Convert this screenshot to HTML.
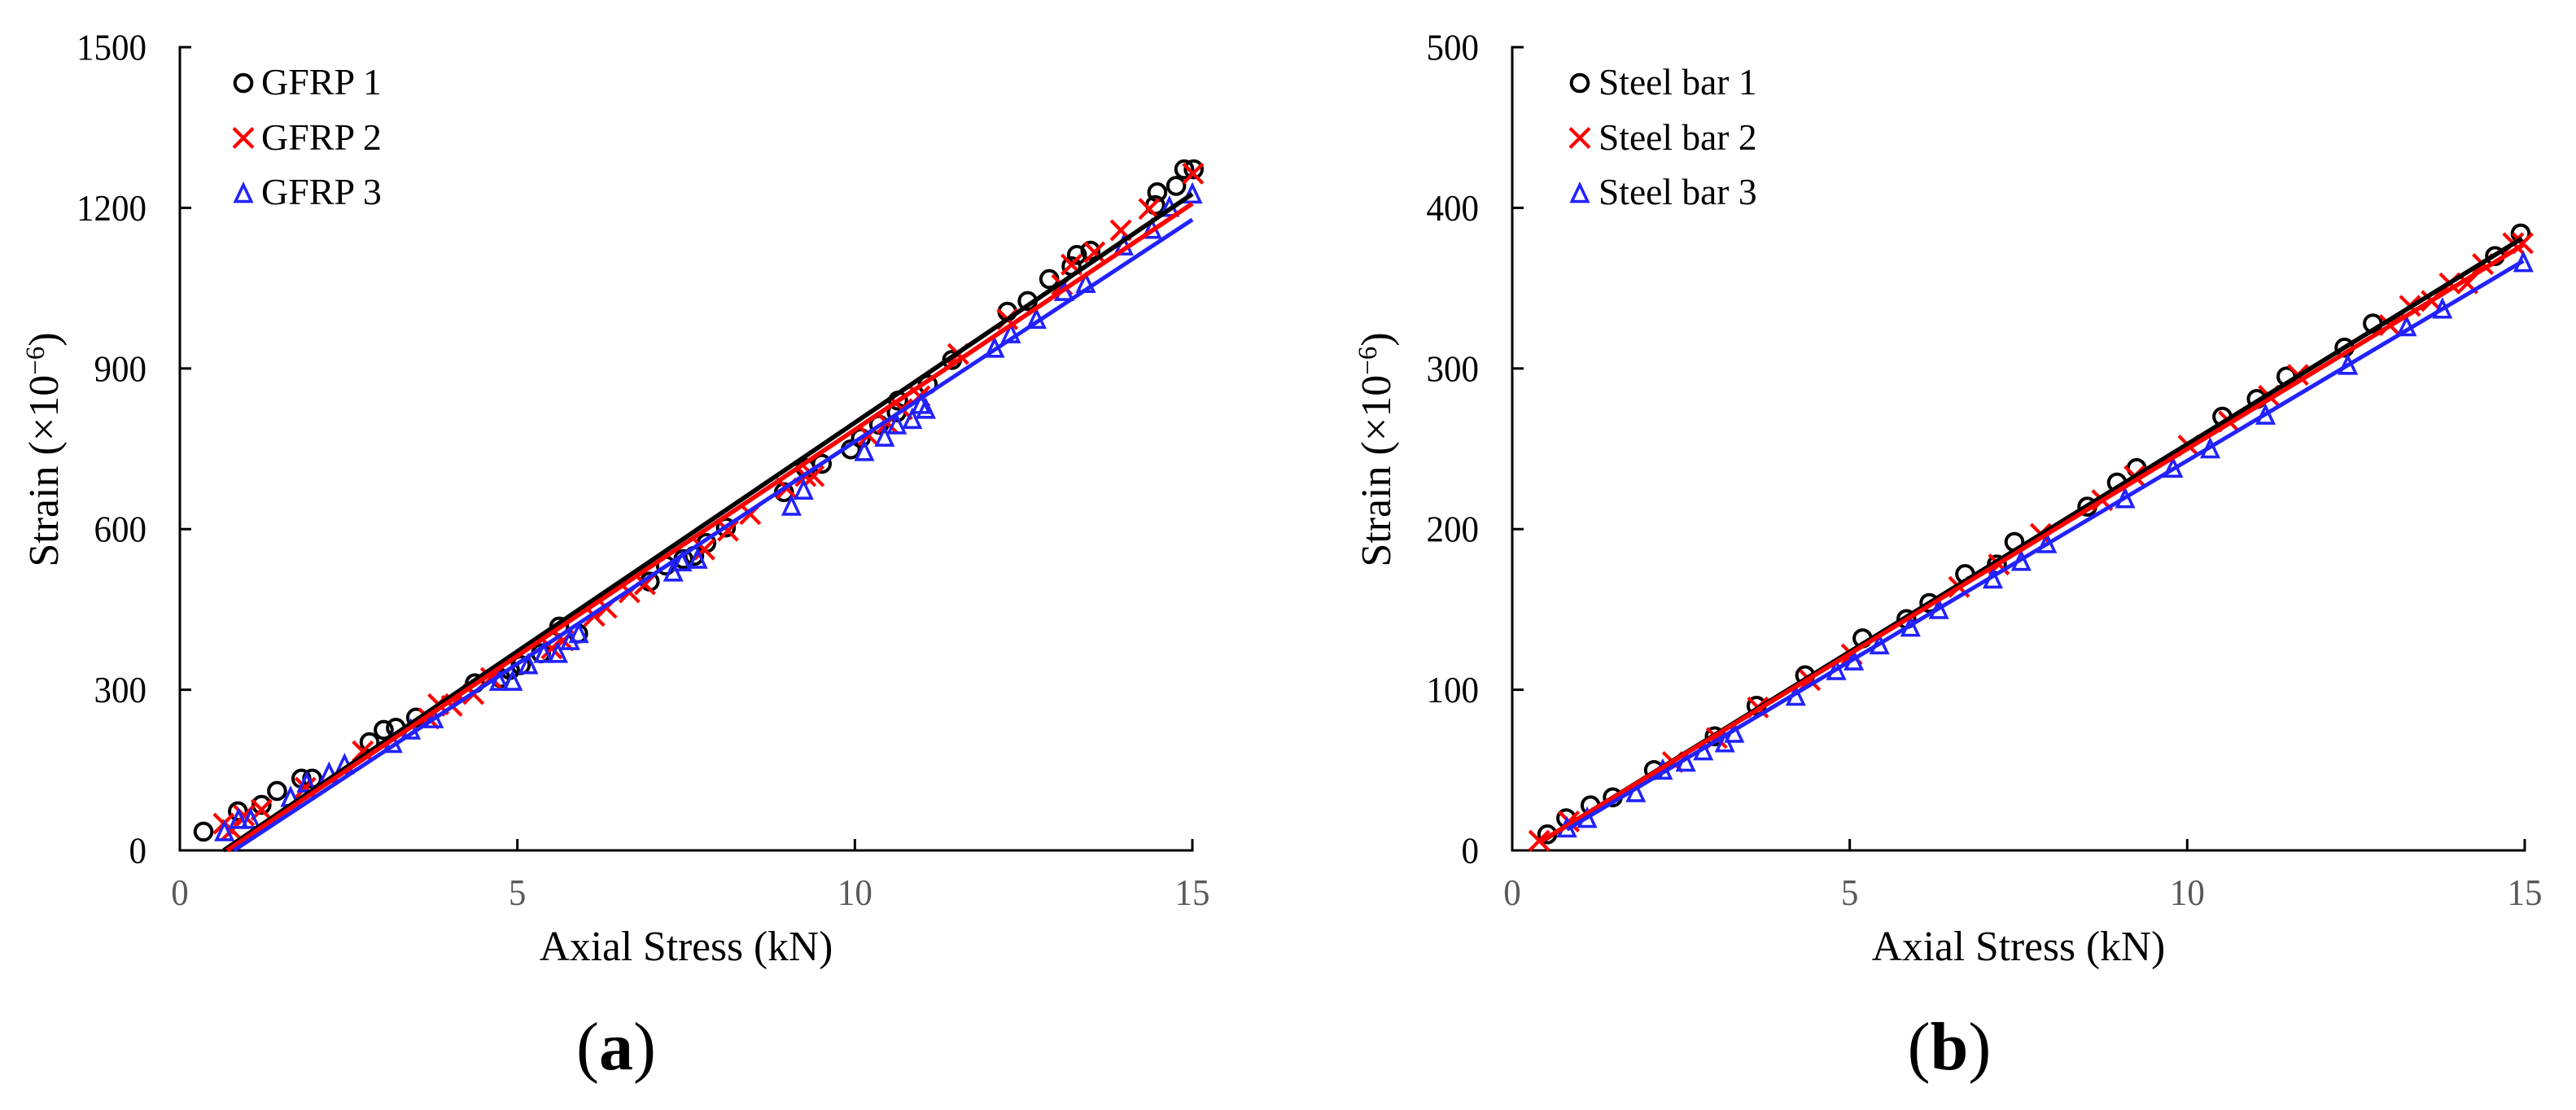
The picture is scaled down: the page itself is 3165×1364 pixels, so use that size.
<!DOCTYPE html>
<html lang="en">
<head>
<meta charset="utf-8">
<title>Axial stress vs strain for GFRP and steel bars</title>
<style>
html,body{margin:0;padding:0;background:#fff;}
svg{display:block;font-family:"Liberation Serif","Times New Roman",serif;}
</style>
</head>
<body>
<svg id="figure" xmlns="http://www.w3.org/2000/svg" width="3165" height="1364" viewBox="0 0 3165 1364">
  <rect x="0" y="0" width="3165" height="1364" fill="#ffffff"/>
  <g id="panel-a"></g>
  <g id="panel-b"></g>
  <text x="757" y="1314" font-size="84" text-anchor="middle" fill="#000">(<tspan font-weight="bold">a</tspan>)</text>
  <text x="2395" y="1314" font-size="84" text-anchor="middle" fill="#000">(<tspan font-weight="bold">b</tspan>)</text>
</svg>
<script>
const xTickValues = [0, 5, 10, 15];
const gfrpYTicks = [0, 300, 600, 900, 1200, 1500];
const steelYTicks = [0, 100, 200, 300, 400, 500];
const gfrpNames = ['GFRP 1', 'GFRP 2', 'GFRP 3'];
const steelNames = ['Steel bar 1', 'Steel bar 2', 'Steel bar 3'];

const gfrp1Load = [0.35,0.86,1.21,1.44,1.80,1.96,2.81,3.02,3.20,3.50,4.37,4.75,4.89,5.05,5.35,5.62,5.90,6.96,7.20,7.46,7.62,7.80,8.09,8.95,9.27,9.51,9.94,10.09,10.36,10.62,10.64,11.08,11.44,12.26,12.56,12.88,13.21,13.29,13.49,14.45,14.48,14.76,14.88,15.02];
const gfrp1Strain = [35,73,85,111,134,134,202,225,229,248,312,322,337,346,368,418,405,502,532,544,550,574,603,669,714,722,749,770,795,818,840,870,916,1006,1026,1067,1091,1112,1120,1205,1229,1241,1272,1272];

const gfrp2Load = [0.65,0.77,0.95,1.21,1.86,2.71,3.69,3.83,4.03,4.35,4.61,5.51,5.68,6.14,6.32,6.66,6.89,7.77,8.12,8.45,8.99,9.27,9.39,10.20,10.48,10.70,10.96,11.53,12.26,13.07,13.21,13.55,13.94,14.36,15.01];
const gfrp2Strain = [50,38,65,76,117,185,246,273,270,292,322,377,392,438,453,482,497,562,597,628,676,699,699,775,798,824,848,927,992,1056,1094,1117,1158,1198,1264];

const gfrp3Load = [0.66,0.87,1.05,1.64,1.88,2.21,2.44,3.15,3.42,3.76,4.73,4.93,5.16,5.39,5.60,5.78,5.91,7.31,7.44,7.67,9.06,9.24,10.14,10.44,10.62,10.85,10.98,11.05,12.07,12.31,12.69,13.10,13.42,13.98,14.40,14.66,15.00];
const gfrp3Strain = [35,58,58,99,126,144,160,200,225,246,316,316,347,368,368,392,405,520,539,544,643,673,745,772,795,805,833,824,938,965,992,1044,1059,1129,1160,1201,1226];

const gfrpFitLoad1 = [0.65, 15];
const gfrpFitStrain1 = [0, 1226];
const gfrpFitLoad2 = [0.70, 15];
const gfrpFitStrain2 = [0, 1208];
const gfrpFitLoad3 = [0.80, 15];
const gfrpFitStrain3 = [0, 1178];

const steel1Load = [0.52,0.80,1.16,1.49,2.10,3.00,3.62,4.34,5.19,5.84,6.18,6.71,7.18,7.44,8.52,8.96,9.25,10.52,11.03,11.47,12.33,12.75,14.56,14.94];
const steel1Strain = [10,20,28,33,50,71,90,109,132,144,154,172,178,192,214,229,238,270,281,295,313,328,370,384];

const steel2Load = [0.40,0.84,2.38,3.03,3.64,4.41,5.03,6.62,7.21,7.83,8.74,9.22,10.02,10.62,11.21,11.64,13.00,13.30,13.62,13.89,14.15,14.38,14.83,14.97];
const steel2Strain = [6,18,55,70,89,106,122,164,178,197,218,233,252,267,283,296,327,339,342,353,353,365,378,378];

const steel3Load = [0.81,1.11,1.83,2.23,2.57,2.83,3.15,3.29,4.20,4.80,5.06,5.44,5.90,6.32,7.12,7.54,7.92,9.08,9.79,10.34,11.16,12.38,13.25,13.78,14.98];
const steel3Strain = [14,20,36,50,55,62,67,73,96,112,118,128,139,150,169,180,191,219,238,250,271,302,326,337,366];

const steelFitLoad1 = [0.45, 14.96];
const steelFitStrain1 = [6, 381];
const steelFitLoad2 = [0.40, 14.98];
const steelFitStrain2 = [5, 377];
const steelFitLoad3 = [0.81, 14.98];
const steelFitStrain3 = [13, 367];

const NS = 'http://www.w3.org/2000/svg';
const COLORS = ['#000000', '#ff0000', '#2222ff'];

function make(parent, tag, attrs, text) {
  const el = document.createElementNS(NS, tag);
  for (const k in attrs) el.setAttribute(k, attrs[k]);
  if (text !== undefined) el.textContent = text;
  parent.appendChild(el);
  return el;
}

function drawMarker(parent, kind, cx, cy) {
  let el;
  if (kind === 0) {
    el = make(parent, 'circle', {cx: cx, cy: cy, r: 10.3, fill: 'none', stroke: COLORS[0], 'stroke-width': 4});
    
  } else if (kind === 1) {
    const d = 'M' + (cx - 12) + ' ' + (cy - 12) + 'L' + (cx + 12) + ' ' + (cy + 12) + 'M' + (cx - 12) + ' ' + (cy + 12) + 'L' + (cx + 12) + ' ' + (cy - 12);
    el = make(parent, 'path', {d: d, fill: 'none', stroke: COLORS[1], 'stroke-width': 4.2});
    
  } else {
    const pts = cx + ',' + (cy - 10.5) + ' ' + (cx + 9.7) + ',' + (cy + 10) + ' ' + (cx - 9.7) + ',' + (cy + 10);
    el = make(parent, 'polygon', {points: pts, fill: 'none', stroke: COLORS[2], 'stroke-width': 3.6});
    
  }
  
  return el;
}

function drawPanel(opts) {
  const g = document.getElementById(opts.id);
  const x0 = opts.left, x15 = opts.left + 1244, yBottom = 1045, yTop = 58;
  const yMax = opts.yTicks[opts.yTicks.length - 1];
  const sx = v => x0 + (v / 15) * (x15 - x0);
  const sy = v => yBottom - (v / yMax) * (yBottom - yTop);

  const axes = make(g, 'g', {});
  
  

  const xAxis = make(axes, 'line', {x1: x0 - 1.5, x2: x15 + 1.5, y1: yBottom, y2: yBottom, stroke: '#000', 'stroke-width': 3});
  
  
  const yAxis = make(axes, 'line', {x1: x0, x2: x0, y1: yTop - 1.5, y2: yBottom + 1.5, stroke: '#000', 'stroke-width': 3});
  
  

  xTickValues.forEach(v => {
    if (v !== 0) {
      const t = make(axes, 'line', {x1: sx(v), x2: sx(v), y1: yBottom, y2: yBottom - 14, stroke: '#000', 'stroke-width': 3});
      
      
    }
    const label = String(v);
    const lab = make(axes, 'text', {x: sx(v), y: 1112, 'font-size': 45, 'text-anchor': 'middle', fill: '#595959', textLength: label.length * 21.5, lengthAdjust: 'spacingAndGlyphs'}, label);
    
    
  });

  opts.yTicks.forEach(v => {
    if (v !== 0) {
      const t = make(axes, 'line', {x1: x0, x2: x0 + 14, y1: sy(v), y2: sy(v), stroke: '#000', 'stroke-width': 3});
      
      
    }
    const label = String(v);
    const lab = make(axes, 'text', {x: x0 - 41, y: sy(v) + 15.5, 'font-size': 45, 'text-anchor': 'end', fill: '#000', textLength: label.length * 21.5, lengthAdjust: 'spacingAndGlyphs'}, label);
    
    
  });

  const xTitle = make(axes, 'text', {x: x0 + 622, y: 1180, 'font-size': 51.5, 'text-anchor': 'middle', fill: '#000'}, 'Axial Stress (kN)');
  
  

  const yTitle = make(axes, 'text', {transform: 'translate(' + (x0 - 150) + ',552.5) rotate(-90)', 'font-size': 52, 'text-anchor': 'middle', fill: '#000'});
  
  
  yTitle.appendChild(document.createTextNode('Strain (\u00D710'));
  make(yTitle, 'tspan', {dy: -17, 'font-size': 33}, '\u22126');
  make(yTitle, 'tspan', {dy: 17}, ')');

  opts.series.forEach((s, i) => {
    const sg = make(g, 'g', {});
    
    
    s.x.forEach((xv, j) => drawMarker(sg, i, sx(xv), sy(s.y[j])));
  });

  opts.fits.forEach((f, i) => {
    const ln = make(g, 'line', {x1: sx(f.x[0]), y1: sy(f.y[0]), x2: sx(f.x[1]), y2: sy(f.y[1]), stroke: COLORS[i], 'stroke-width': i === 2 ? 5 : 5.6});
    
    
  });

  const legend = make(g, 'g', {});
  
  
  const rowMarkerY = [102, 169.5, 237.6];
  const rowTextY = [116, 184, 251];
  opts.names.forEach((name, i) => {
    const entry = make(legend, 'g', {});
    
    
    drawMarker(entry, i, x0 + opts.legendMarker, rowMarkerY[i]);
    const lab = make(entry, 'text', {x: x0 + opts.legendText, y: rowTextY[i], 'font-size': opts.legendSize, fill: '#000'}, name);
    
    
  });
}

drawPanel({
  id: 'panel-a', left: 221, yTicks: gfrpYTicks, names: gfrpNames, legendMarker: 78, legendText: 100, legendSize: 46,
  series: [{x: gfrp1Load, y: gfrp1Strain}, {x: gfrp2Load, y: gfrp2Strain}, {x: gfrp3Load, y: gfrp3Strain}],
  fits: [{x: gfrpFitLoad1, y: gfrpFitStrain1}, {x: gfrpFitLoad2, y: gfrpFitStrain2}, {x: gfrpFitLoad3, y: gfrpFitStrain3}]
});
drawPanel({
  id: 'panel-b', left: 1858, yTicks: steelYTicks, names: steelNames, legendMarker: 83, legendText: 106, legendSize: 45.5,
  series: [{x: steel1Load, y: steel1Strain}, {x: steel2Load, y: steel2Strain}, {x: steel3Load, y: steel3Strain}],
  fits: [{x: steelFitLoad1, y: steelFitStrain1}, {x: steelFitLoad2, y: steelFitStrain2}, {x: steelFitLoad3, y: steelFitStrain3}]
});
</script>
</body>
</html>
